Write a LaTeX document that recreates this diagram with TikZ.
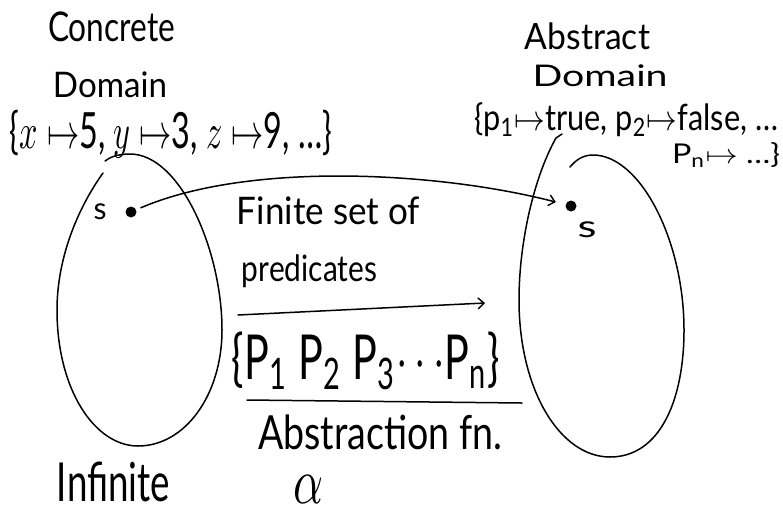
\documentclass[tikz,border=0pt]{standalone}
\usepackage{fontspec}
\setmainfont{Lato}
\usepackage{graphicx}
\usetikzlibrary{arrows.meta}
\newcommand{\hw}[3]{\resizebox*{#1pt}{#2pt}{#3}}
\tikzset{
  hand/.style={line width=1.5pt, line cap=round, line join=round},
  lbl/.style={inner sep=0pt, outer sep=0pt},
  dotnode/.style={circle, fill=black, draw=none, inner sep=0pt, minimum size=11pt},
  barb/.style={-{Straight Barb[length=6pt,width=11pt,line width=1.4pt]}}
}
\begin{document}
\begin{tikzpicture}[x=1pt,y=-1pt]
\useasboundingbox (0,0) rectangle (783,517);

% left domain (open egg shape)
\draw[hand] (103,173) .. controls (80,205) and (57,255) .. (57,310)
  .. controls (57,390) and (95,446) .. (138,446)
  .. controls (185,446) and (222,395) .. (222,330)
  .. controls (222,250) and (180,154) .. (130,154)
  .. controls (118,154) and (110,157) .. (105,161);

% right domain
\draw[hand] (562,134) -- (556,138) .. controls (535,175) and (519,240) .. (519,300)
  .. controls (519,390) and (560,457) .. (610,457)
  .. controls (660,457) and (684,400) .. (684,330)
  .. controls (684,240) and (640,155) .. (593,155)
  .. controls (582,155) and (575,161) .. (570,167);

% texts
\node[lbl] (conc) at (111.5,27) {\hw{127}{30}{Concrete}};
\node[lbl] (dom1) at (110,85) {\hw{114}{26}{Domain}};
\node[lbl] (cset) at (171,134) {\hw{322}{48}{\{$x\mapsto$5, $y\mapsto$3, $z\mapsto$9, \dots\}}};
\node[lbl] (abst) at (587.5,36.5) {\hw{125}{27}{Abstract}};
\node[lbl] (dom2) at (600,76) {\hw{135}{22}{Domain}};
\node[lbl] (aset1) at (626.5,120) {\hw{303}{34}{\{p\textsubscript{1}$\mapsto$true, p\textsubscript{2}$\mapsto$false, \dots}};
\node[lbl] (aset2) at (726,155) {\hw{108}{25}{P\textsubscript{n}$\mapsto$ \dots\}}};
\node[lbl] (sl) at (100,212) {\hw{13}{16}{s}};
\node[lbl] (sr) at (587,230) {\hw{19}{16}{s}};
\node[lbl] (fin) at (328.5,211) {\hw{183}{28}{Finite set of}};
\node[lbl] (pred) at (309.5,271.5) {\hw{135}{33}{predicates}};
\node[lbl] (pset) at (366,361) {\hw{268}{58}{\{P\textsubscript{1}\ P\textsubscript{2}\ P\textsubscript{3}$\cdots$P\textsubscript{n}\}}};
\node[lbl] (absfn) at (380,432) {\hw{244}{35}{Abstraction fn.}};
\node[lbl] (alpha) at (308,489) {\hw{30}{28}{$\alpha$}};
\node[lbl] (inf) at (113.5,482) {\hw{113}{40}{Infinite}};

% points
\node[dotnode] (s1) at (131,212) {};
\node[dotnode] (s2) at (571,206) {};

% mapping arrow
\draw[hand, barb, shorten <=5pt, shorten >=10pt] (s1) .. controls (250,161) and (440,172) .. (s2);

% predicate arrow and underline
\coordinate (a1) at (238,315);
\coordinate (a2) at (485,303);
\draw[hand, barb] (a1) -- (a2);
\coordinate (u1) at (247,400);
\coordinate (u2) at (522,403);
\draw[hand] (u1) -- (u2);
\end{tikzpicture}
\end{document}
